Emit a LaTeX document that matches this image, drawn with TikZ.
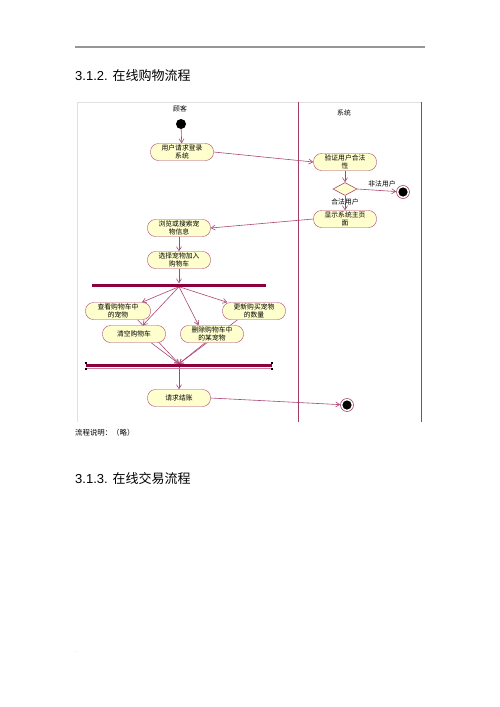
\documentclass[tikz,border=0pt]{standalone}
\usepackage{fontspec}
\setmainfont{Liberation Sans}
\newfontfamily\cjk{Noto Sans CJK SC}
\usetikzlibrary{arrows.meta,shapes.geometric,backgrounds}
\definecolor{lc}{RGB}{170,70,115}
\definecolor{actfill}{RGB}{255,255,206}
\definecolor{barc}{RGB}{140,0,60}
\definecolor{lanec}{RGB}{160,60,100}
\definecolor{rulec}{RGB}{150,150,150}
\begin{document}
\begin{tikzpicture}[x=1pt,y=-1pt,
  act/.style={draw=lc, fill=actfill, rounded corners=8pt, minimum width=63pt,
    minimum height=17pt, inner sep=0pt, align=center,
    font=\cjk\fontsize{6.8}{7.4}\selectfont},
  arr/.style={draw=lc, line width=0.6pt, -{Straight Barb[length=4pt,width=5pt]}},
  lbl/.style={font=\cjk\fontsize{6.8}{7.4}\selectfont, inner sep=0pt},
  startc/.style={circle, fill=black, minimum size=10pt, inner sep=0pt},
  finc/.style={circle, draw=lc, fill=white, line width=0.6pt, minimum size=13pt, inner sep=0pt,
    path picture={\fill[black] (path picture bounding box.center) circle (4.6pt);}},
  barn/.style={fill=barc, minimum height=3pt, inner sep=0pt},
  handle/.style={fill=black, minimum size=2.6pt, inner sep=0pt},
  title/.style={anchor=west, inner sep=0pt, font=\fontsize{13}{15}\selectfont}
]
\useasboundingbox (0,0) rectangle (500,707);

% page rule and titles
\draw[rulec, line width=1.2pt] (75,47) -- (425,47);
\node[inner sep=0pt, font=\fontsize{5}{5}\selectfont, text=rulec] (dot1) at (424,42) {.};
\node[title] (t1) at (75,76) {3.1.2. {\cjk 在线购物流程}};
\node[title] (t2) at (75,479) {3.1.3. {\cjk 在线交易流程}};
\node[anchor=west, inner sep=0pt, font=\cjk\fontsize{7.4}{8}\selectfont] (note) at (75,433) {流程说明：（略）};
\node[inner sep=0pt, font=\fontsize{5}{5}\selectfont, text=rulec] (dot2) at (76,652) {.};

% frame and swimlanes
\draw[black!12, line width=0.6pt] (77,422) -- (77,102) -- (422,102);
\draw[lanec, line width=0.7pt] (298,102) -- (298,422);
\draw[lanec, line width=0.7pt] (421,102) -- (421,422);
\node[lbl] (lane1) at (180,109) {顾客};
\node[lbl] (lane2) at (344,113) {系统};

% nodes
\node[startc] (start) at (181,124) {};
\node[act] (login) at (182,152) {用户请求登录\\系统};
\node[act] (verify) at (345,162) {验证用户合法\\性};
\node[diamond, draw=lc, fill=actfill, line width=0.6pt, minimum width=24pt, minimum height=13pt, inner sep=0pt, shape aspect=2] (dec) at (345,189) {};
\node[finc] (fin1) at (403,192) {};
\node[lbl] (illegal) at (382,184) {非法用户};
\node[act] (home) at (345,219) {显示系统主页\\面};
\node[act] (browse) at (179,228) {浏览或搜索宠\\物信息};
\node[act] (select) at (179,260) {选择宠物加入\\购物车};
\node[barn, minimum width=174pt] (fork) at (179,285) {};
\node[act, minimum width=65pt] (check) at (118,311) {查看购物车中\\的宠物};
\node[act] (clear) at (134,334) {清空购物车};
\node[act] (delete) at (212,334) {删除购物车中\\的某宠物};
\node[act] (update) at (254,311) {更新购买宠物\\的数量};
\node[barn, minimum width=186pt] (join) at (179,365.5) {};
\draw[barc!50, line width=0.4pt] (86,368.5) -- (272,368.5);
\node[handle] (h1) at (86,363) {};
\node[handle] (h2) at (86,369) {};
\node[handle] (h3) at (272,363) {};
\node[handle] (h4) at (272,369) {};
\node[act] (pay) at (179,398) {请求结账};
\node[finc] (fin2) at (347,405) {};

% connectors
\begin{scope}[on background layer]
\draw[arr] (start) -- (login);
\draw[arr] (login.east) -- (verify.west);
\draw[arr] (verify) -- (dec);
\draw[arr] (dec.east) -- (fin1);
\draw[arr] (dec) -- (home);
\draw[arr] (home.west) -- (browse.east);
\draw[arr] (browse) -- (select);
\draw[arr] (select) -- (fork);
\draw[arr] (fork.south) -- (check.20);
\draw[arr] (fork.south) -- (clear.45);
\draw[arr] (fork.south) -- (delete.147);
\draw[arr] (fork.south) -- (update.162);
\draw[arr] (check.-24) -- (join.north);
\draw[arr] (clear.-27) -- (join.north);
\draw[arr] (delete.232) -- (join.north);
\draw[arr] (update.208) -- (join.north);
\draw[arr] (join) -- (pay);
\draw[arr] (pay.east) -- (fin2);
\end{scope}
\node[lbl] (legal) at (345,202) {合法用户};
\end{tikzpicture}
\end{document}
